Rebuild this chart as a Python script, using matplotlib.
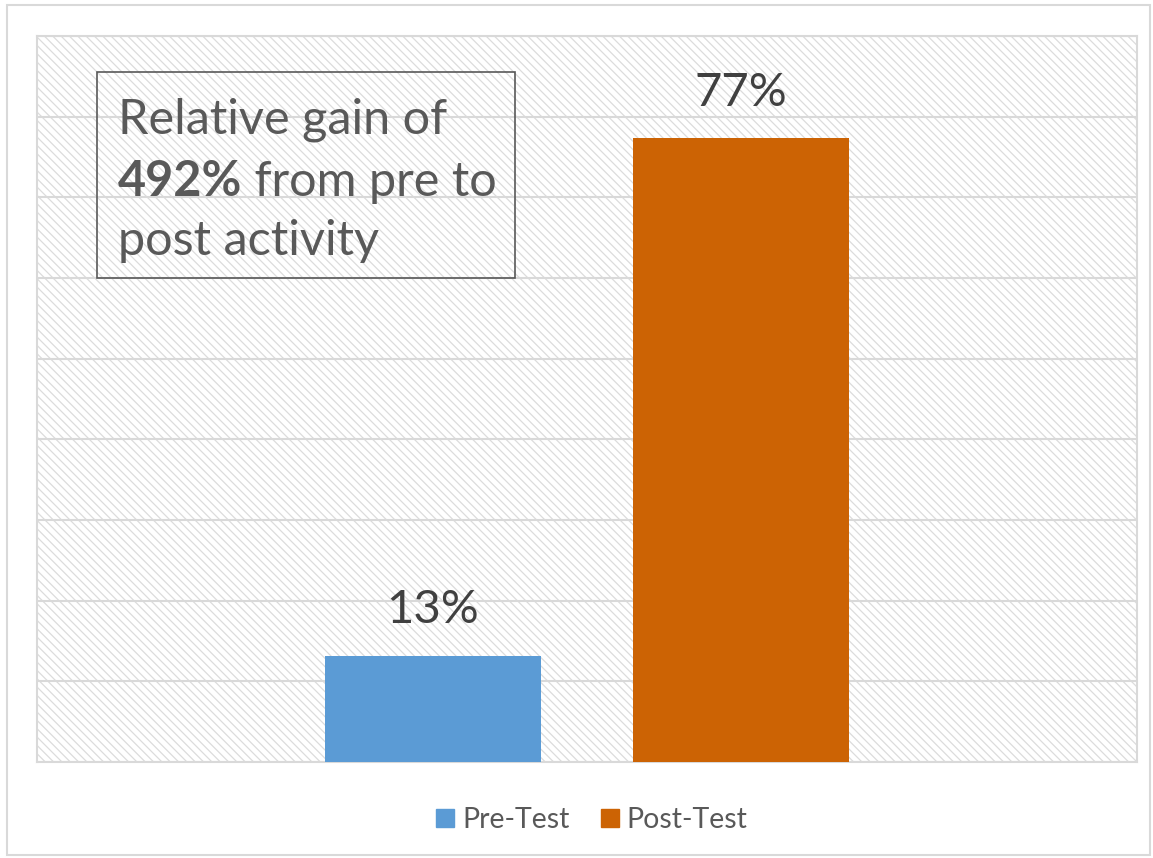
import matplotlib.pyplot as plt
from matplotlib.patches import Rectangle, Patch

# ── DATA ─────────────────────────────────────────────────────────────────────
series = ["Pre-Test", "Post-Test"]
values = [13.2, 77.3]
colors = ["#5b9bd5", "#cc6304"]
note_lines = ["Relative gain of", ("492%", " from pre to"), "post activity"]

W, H = 1153, 858
FONT = "Lato"
GRID = "#d9d9d9"

plt.rcParams["font.family"] = [FONT, "DejaVu Sans"]
plt.rcParams["hatch.linewidth"] = 0.9

fig = plt.figure(figsize=(W / 100, H / 100), dpi=100)

def px(x, y):
    # pixel (from top-left) -> figure fraction
    return x / W, 1 - y / H

# outer chart border
fig.patches.append(Rectangle(px(7, 855), 1143 / W, 850 / H, transform=fig.transFigure,
                             facecolor="none", edgecolor=GRID, linewidth=1.5))

left, bottom = px(37, 762)
ax = fig.add_axes([left, bottom, 1100 / W, 726 / H])

# hatched plot background
ax.add_patch(Rectangle((0, 0), 1, 1, transform=ax.transAxes, facecolor="white",
                       edgecolor="#dcdcdc", hatch="\\\\\\\\", linewidth=0, zorder=0))

offset = 0.28
xs = [-offset, offset]
bars = ax.bar(xs, values, width=0.393, color=colors, zorder=3, label=series)
for b, v in zip(bars, values):
    ax.text(b.get_x() + b.get_width() / 2, v + 3.0, f"{v:.0f}%", ha="center", va="bottom",
            fontsize=34, color="#404040", zorder=4)

ax.set_xlim(-1, 1)
ax.set_ylim(0, 90)
ax.set_yticks(range(0, 91, 10))
ax.yaxis.grid(True, color=GRID, linewidth=1.5, zorder=1)
ax.set_axisbelow(False)
ax.tick_params(left=False, bottom=False, labelleft=False, labelbottom=False)
for s in ax.spines.values():
    s.set_color(GRID)
    s.set_linewidth(1.5)

# annotation box
fig.patches.append(Rectangle(px(97, 278), 418 / W, 206 / H, transform=fig.transFigure,
                             facecolor="none", edgecolor="#595959", linewidth=1.2, zorder=5))
tcol = "#595959"
fs = 35
x0 = 118
baselines = [134, 196, 255]
fig.text(*px(x0, baselines[0]), note_lines[0], fontsize=fs, color=tcol, va="baseline")
bold = fig.text(*px(x0, baselines[1]), note_lines[1][0], fontsize=fs, color=tcol,
                va="baseline", fontweight="bold")
fig.canvas.draw()
bb = bold.get_window_extent()
fig.text(bb.x1 / W, 1 - baselines[1] / H, note_lines[1][1], fontsize=fs, color=tcol,
         va="baseline")
fig.text(*px(x0, baselines[2]), note_lines[2], fontsize=fs, color=tcol, va="baseline")

handles = [Patch(color=c, label=s) for c, s in zip(colors, series)]
fig.legend(handles=handles, loc="center", bbox_to_anchor=px(592, 820), ncol=2,
           frameon=False, fontsize=20.5, handlelength=0.63, handleheight=0.63,
           handletextpad=0.28, columnspacing=1.09, labelcolor="#595959")

plt.savefig("out.png", dpi=100)
